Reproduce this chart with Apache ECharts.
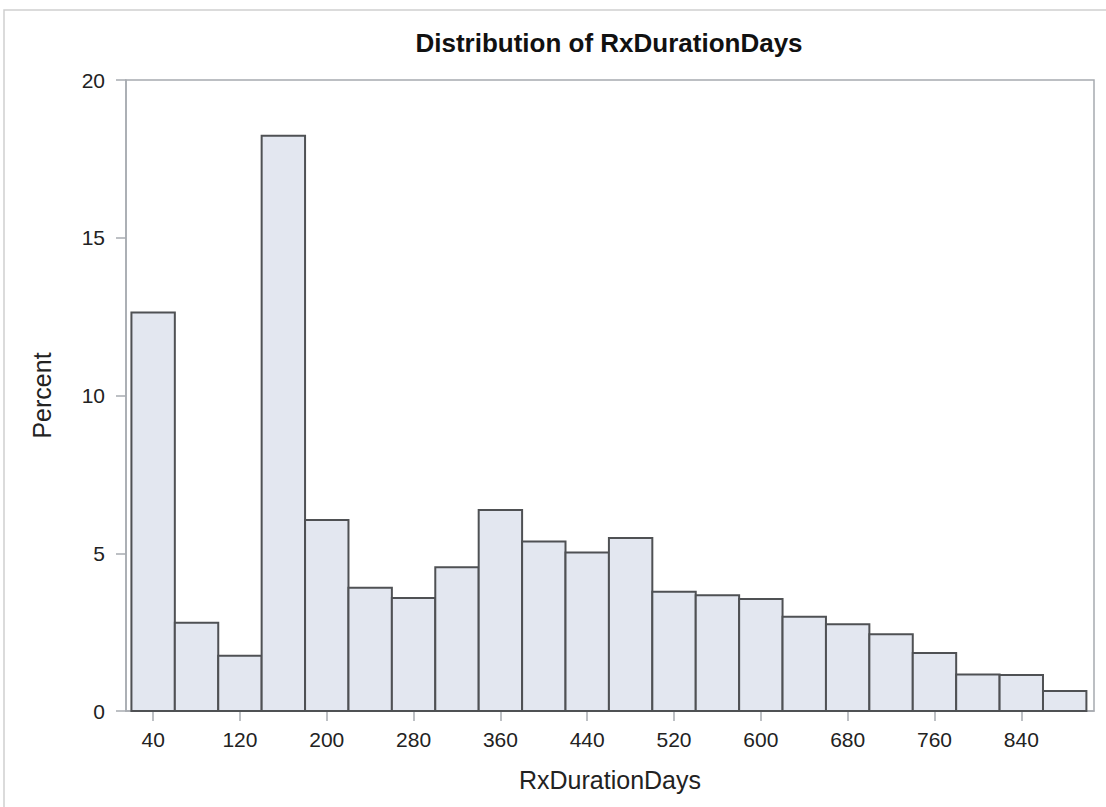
<!DOCTYPE html>
<html>
<head>
<meta charset="utf-8">
<script src="https://cdn.jsdelivr.net/npm/echarts@6/dist/echarts.min.js"></script>
<style>
  html, body { margin: 0; padding: 0; background: #fff; }
  #container { width: 1106px; height: 807px; }
</style>
</head>
<body>
<div id="container"></div>
<script>
var dom = document.getElementById("container");
var myChart = echarts.init(dom, null, {renderer: 'svg'});

// histogram bins (left / right edges, days) and percent per bin
var binStart = [20, 60, 100, 140, 180, 220, 260, 300, 340, 380, 420, 460, 500, 540, 580, 620, 660, 700, 740, 780, 820, 860];
var binEnd   = [60, 100, 140, 180, 220, 260, 300, 340, 380, 420, 460, 500, 540, 580, 620, 660, 700, 740, 780, 820, 860, 900];
var percent  = [12.63, 2.80, 1.75, 18.23, 6.05, 3.91, 3.58, 4.56, 6.37, 5.37, 5.02, 5.48, 3.78, 3.67, 3.55, 2.99, 2.75, 2.43, 1.84, 1.16, 1.14, 0.63];
var xTicks   = [40, 120, 200, 280, 360, 440, 520, 600, 680, 760, 840];

var frameColor = '#a7abb0';
var font = 'Liberation Sans, Arial, sans-serif';

var data = [];
for (var i = 0; i < percent.length; i++) {
    data.push([binStart[i], binEnd[i], percent[i]]);
}

var option = {
    animation: false,
    textStyle: {
        fontFamily: font
    },
    title: {
        text: 'Distribution of RxDurationDays',
        left: 604,
        textAlign: 'center',
        top: 25,
        textStyle: {
            fontFamily: font,
            fontWeight: 'bold',
            fontSize: 26,
            color: '#111'
        }
    },
    graphic: [{
        type: 'rect',
        shape: {x: 4, y: 10, width: 1120, height: 820},
        style: {fill: 'none', stroke: '#cfcfcf', lineWidth: 1.5},
        silent: true
    }],
    grid: {
        left: 126,
        right: 12,
        top: 80,
        bottom: 96,
        show: true,
        borderColor: frameColor,
        borderWidth: 1.5
    },
    xAxis: {
        type: 'value',
        min: 15,
        max: 907,
        name: 'RxDurationDays',
        nameLocation: 'middle',
        nameGap: 56,
        nameTextStyle: {fontSize: 25, color: '#222', fontFamily: font},
        axisLine: {show: true, lineStyle: {color: frameColor, width: 1.5}},
        axisTick: {show: true, length: 10, customValues: xTicks, lineStyle: {color: frameColor, width: 1.5}},
        axisLabel: {
            customValues: xTicks,
            margin: 18,
            fontSize: 21,
            color: '#222',
            fontFamily: font
        },
        splitLine: {show: false}
    },
    yAxis: {
        type: 'value',
        min: 0,
        max: 20,
        interval: 5,
        name: 'Percent',
        nameLocation: 'middle',
        nameGap: 72,
        nameTextStyle: {fontSize: 25, color: '#222', fontFamily: font},
        axisLine: {show: true, lineStyle: {color: frameColor, width: 1.5}},
        axisTick: {show: true, length: 10, lineStyle: {color: frameColor, width: 1.5}},
        axisLabel: {
            margin: 21,
            fontSize: 21,
            color: '#222',
            fontFamily: font
        },
        splitLine: {show: false}
    },
    series: [{
        type: 'custom',
        renderItem: function (params, api) {
            var topLeft = api.coord([api.value(0), api.value(2)]);
            var bottomRight = api.coord([api.value(1), 0]);
            return {
                type: 'rect',
                shape: {
                    x: topLeft[0],
                    y: topLeft[1],
                    width: bottomRight[0] - topLeft[0],
                    height: bottomRight[1] - topLeft[1]
                },
                style: {
                    fill: '#e3e7f0',
                    stroke: '#4f5154',
                    lineWidth: 2
                }
            };
        },
        encode: {x: [0, 1], y: 2},
        data: data
    }]
};

myChart.setOption(option);
</script>
</body>
</html>
